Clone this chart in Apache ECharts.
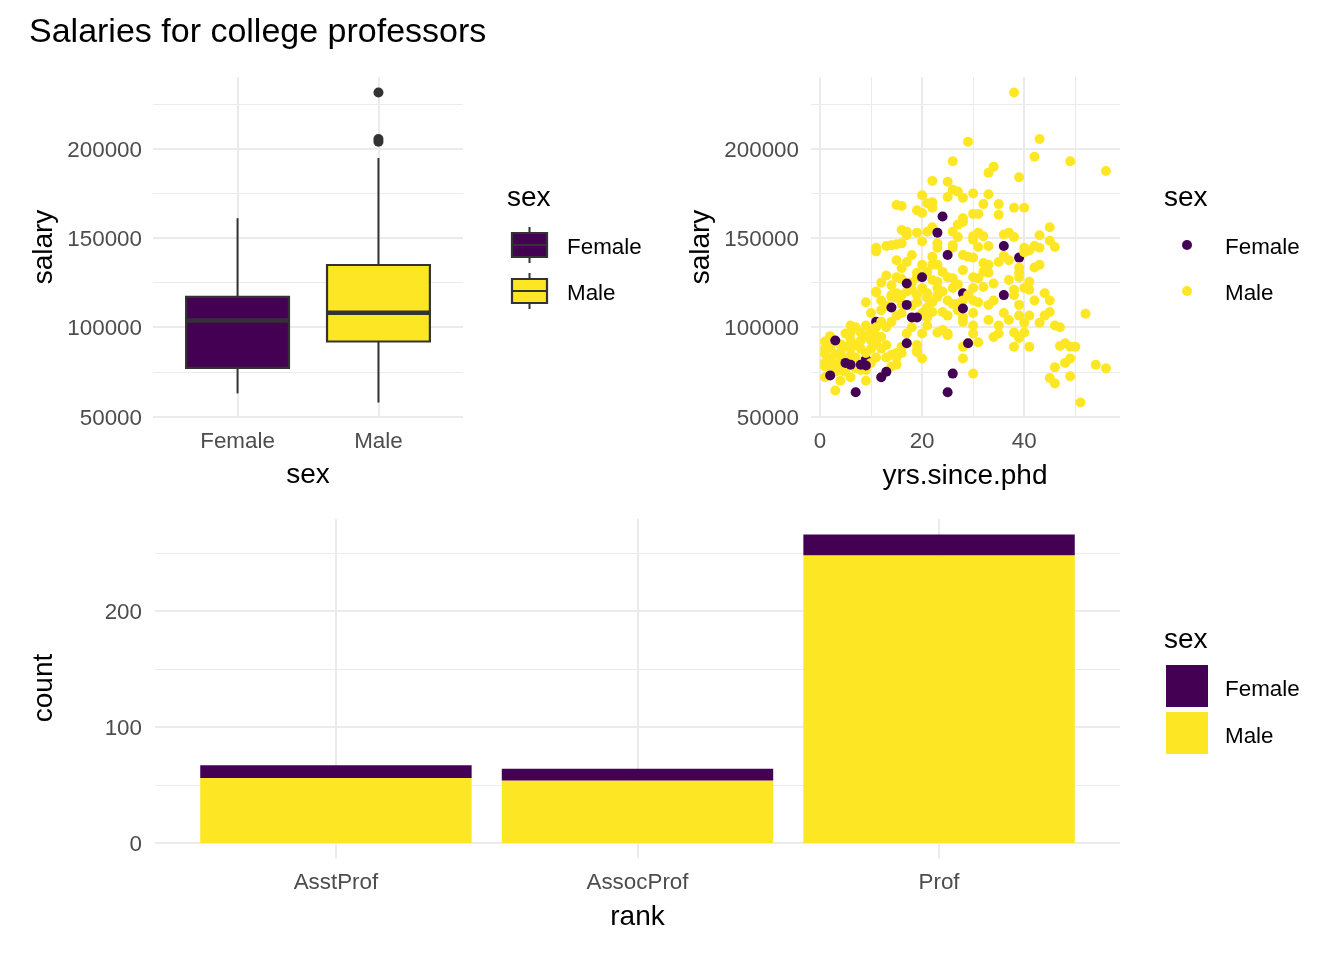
<!DOCTYPE html>
<html><head><meta charset="utf-8">
<script src="https://cdn.jsdelivr.net/npm/echarts@6/dist/echarts.min.js"></script>
<style>html,body{margin:0;padding:0;background:#fff}#c{width:1344px;height:960px}</style>
</head><body><div id="c"></div>
<script>
const FONT = '"Liberation Sans", Arial, Helvetica, sans-serif';
const sexLevels = ['Female', 'Male'];
const sexColors = ['#440154', '#FDE725'];

// box plot statistics [min, Q1, median, Q3, max]
const femaleBox = [62884, 77250, 103750, 117003, 161101];
const maleBox = [57800, 92000, 108043, 134864, 194800];
const maleOutliers = [231545, 205500, 204000];

const salaryTicks = [50000, 100000, 150000, 200000];
const salaryMinor = [75000, 125000, 175000, 225000];
const yrsTicks = [0, 20, 40];
const yrsMinor = [10, 30, 50];

const ranks = ['AsstProf', 'AssocProf', 'Prof'];
const rankFemale = [11, 10, 18];
const rankMale = [56, 54, 248];
const countTicks = [0, 100, 200];
const countMinor = [50, 150, 250];

// [yrs.since.phd, salary]
const femalePointsBehind = [[11,103000],[28,119000],[39,139000],[9,82000]];
const femalePoints = [[2,73000],[3,92500],[5,80000],[6,79000],[7,63500],[8,79000],[9,78500],[12,72000],[13,75000],[14,111000],[17,124500],[17,112500],[17,91000],[18,105500],[19,105500],[20,128000],[23,153000],[24,162000],[25,140500],[25,63500],[26,74000],[28,110500],[29,91000],[36,145500],[36,118000]];
const malePoints = [[38,231545],[29,204000],[43,205500],[42,195500],[49,193000],[56,187500],[39,184000],[33,186500],[34,190000],[26,193000],[22,182000],[25,181500],[26,177000],[20,174000],[22,170000],[25,173000],[28,172500],[30,175000],[33,174500],[27,176000],[16,168000],[15,168500],[19,165500],[20,164000],[21,169500],[22,167000],[32,169000],[35,169000],[38,167000],[40,167000],[28,161000],[27,157500],[30,163500],[31,163500],[35,163000],[28,159000],[22,156000],[45,156000],[17,153500],[17,151500],[19,153000],[21,153500],[26,153500],[27,150500],[30,151000],[31,153000],[32,151000],[36,152000],[37,153000],[38,150500],[43,151500],[16,154500],[45,148500],[46,145000],[30,149000],[20,148000],[14,146000],[11,144500],[13,145500],[15,146500],[16,147000],[23,147000],[26,146000],[23,144500],[26,144500],[33,145500],[40,144500],[42,145500],[31,145000],[43,144500],[41,143000],[40,142000],[11,142500],[18,140500],[22,139500],[28,140500],[29,139500],[36,140000],[30,139000],[15,137500],[17,136500],[20,135000],[22,135000],[23,135000],[32,136000],[35,136500],[37,137500],[33,135000],[43,135000],[16,133000],[28,132000],[39,133500],[42,133500],[24,131000],[32,131000],[19,130500],[33,130500],[39,130500],[13,129000],[15,128000],[19,128000],[30,128000],[39,128000],[26,127500],[22,126500],[37,126500],[23,125500],[31,127500],[41,125500],[12,125000],[27,124000],[14,123500],[34,124500],[23,122000],[30,122000],[32,122500],[40,122000],[26,122000],[18,121000],[38,121000],[41,121000],[11,120000],[11,119500],[15,119000],[19,118000],[21,119000],[23,118000],[14,118000],[29,118000],[38,118000],[9,114000],[14,117000],[15,116500],[21,116500],[23,117000],[25,115000],[28,115000],[30,115000],[31,114000],[34,115000],[42,115000],[45,115000],[44,119000],[33,112500],[39,112500],[27,113000],[18,112000],[21,111000],[12,109500],[27,109500],[10,108000],[16,108000],[22,108500],[24,108500],[30,108000],[36,108000],[45,108500],[15,106500],[25,106500],[39,106500],[41,106500],[44,106500],[52,107500],[21,105500],[28,105500],[33,104000],[37,104000],[14,103000],[28,103000],[40,102500],[43,102500],[9,101000],[21,101000],[30,101000],[35,101000],[46,101000],[11,100000],[13,100000],[7,100000],[47,100000],[24,98500],[5,96500],[6,97000],[17,96500],[20,96500],[23,97000],[25,96500],[30,96500],[35,96500],[38,97000],[40,97000],[25,95500],[2,95000],[12,94500],[34,94500],[39,94000],[6,93000],[8,92500],[10,92500],[1,92000],[31,91500],[29,91000],[48,91000],[4,90500],[19,90000],[47,89500],[16,89000],[28,89000],[38,89000],[41,89000],[49,89000],[50,89000],[2,88500],[1,88000],[6,88000],[8,88000],[10,88000],[12,88000],[19,87000],[16,85500],[9,85500],[15,85500],[19,86000],[1,85000],[3,85000],[14,84500],[5,82500],[7,83000],[11,83000],[13,83000],[15,83000],[20,82500],[28,82500],[49,82500],[4,81500],[48,80000],[15,79000],[54,79000],[2,78500],[14,78000],[1,78000],[56,77000],[46,77500],[8,76000],[9,76000],[3,75000],[5,75000],[30,74000],[1,72000],[6,72000],[49,72500],[45,71500],[4,70000],[9,70000],[46,68500],[3,64500],[51,57800],[1,80000],[2,82000],[3,79000],[4,86000],[5,89000],[6,84000],[7,90000],[8,97000],[9,95000],[10,98000],[11,95000],[12,103000],[13,112000],[4,76000],[7,77000],[10,80000],[11,91000],[12,115000],[13,90000],[6,101000],[16,118000],[17,120000],[18,125000],[16,127000],[20,122000],[19,114000],[21,131000],[16,113000],[18,100000],[20,108000],[22,114000],[24,120000],[25,128000],[26,113000]];

// ---- scale limits (ggplot-like 5% expansion / 0.6 discrete expansion) ----
const allPts = malePoints.concat(femalePoints, femalePointsBehind);
const salVals = allPts.map(p => p[1]).concat(femaleBox, maleBox, maleOutliers);
const salMin = Math.min(...salVals), salMax = Math.max(...salVals);
const salPad = (salMax - salMin) * 0.05;
const yrsVals = allPts.map(p => p[0]);
const yrsMin = Math.min(...yrsVals), yrsMax = Math.max(...yrsVals);
const yrsPad = (yrsMax - yrsMin) * 0.05;
const countMax = Math.max(...rankFemale.map((f, i) => f + rankMale[i]));
const countPad = countMax * 0.05;

// stacked bar segments [rank position, lower, upper] (Male at bottom, Female on top)
const maleSegments = rankMale.map((m, i) => [i + 1, 0, m]);
const femaleSegments = rankFemale.map((f, i) => [i + 1, rankMale[i], rankMale[i] + f]);

const GRID = '#EBEBEB';
const AXT = '#4D4D4D';
const BOX_HALF = 0.365;
const BAR_HALF = 0.45;

function majorAxis(extra) {
  return Object.assign({
    type: 'value', axisLine: {show: false},
    axisTick: {show: false},
    splitLine: {show: true, lineStyle: {color: GRID, width: 2}},
    axisLabel: {color: AXT, fontSize: 22.4, fontFamily: FONT}
  }, extra);
}
function minorAxis(extra, vals) {
  return Object.assign({
    type: 'value', axisLine: {show: false},
    axisTick: {show: false, customValues: vals},
    axisLabel: {show: false, customValues: vals},
    splitLine: {show: true, lineStyle: {color: GRID, width: 1}}
  }, extra);
}
const plain = v => String(v);
const yLabel = (margin, vals) => ({
  color: AXT, fontSize: 22.4, fontFamily: FONT, margin, customValues: vals,
  formatter: v => '{t|' + v + '}',
  rich: {t: {color: AXT, fontSize: 22.4, fontFamily: FONT, padding: [4, 0, 0, 0]}}
});

function renderBox(params, api) {
  const x = api.value(0);
  const c = i => api.coord([x, api.value(i)]);
  const pMin = c(1), pQ1 = c(2), pMed = c(3), pQ3 = c(4), pMax = c(5);
  const hw = api.size([BOX_HALF, 0])[0];
  const cx = pMed[0];
  const stroke = '#333333';
  return {type: 'group', children: [
    {type: 'line', shape: {x1: cx, y1: pMax[1], x2: cx, y2: pQ3[1]}, style: {stroke, lineWidth: 2}},
    {type: 'line', shape: {x1: cx, y1: pQ1[1], x2: cx, y2: pMin[1]}, style: {stroke, lineWidth: 2}},
    {type: 'rect', shape: {x: cx - hw, y: pQ3[1], width: 2 * hw, height: pQ1[1] - pQ3[1]}, style: {fill: api.visual('color'), stroke, lineWidth: 2.2}},
    {type: 'line', shape: {x1: cx - hw, y1: pMed[1], x2: cx + hw, y2: pMed[1]}, style: {stroke, lineWidth: 4.5}}
  ]};
}
function renderBar(params, api) {
  const x = api.value(0), lo = api.value(1), hi = api.value(2);
  const p0 = api.coord([x - BAR_HALF, hi]), p1 = api.coord([x + BAR_HALF, lo]);
  return {type: 'rect', shape: {x: p0[0], y: p0[1], width: p1[0] - p0[0], height: p1[1] - p0[1]},
    style: {fill: api.visual('color')}};
}

function txt(text, x, y, size) {
  return {
    type: 'text', x, y,
    style: {text, fontSize: size, fontFamily: FONT, fill: '#000', textAlign: 'left', textVerticalAlign: 'middle', align: 'left', verticalAlign: 'middle'}
  };
}
function ctxt(text, x, y, size, rot) {
  return {
    type: 'text', x, y, rotation: rot || 0,
    style: {text, fontSize: size, fontFamily: FONT, fill: '#000', textAlign: 'center', textVerticalAlign: 'middle', align: 'center', verticalAlign: 'middle'}
  };
}
function boxKey(x, y, color) {
  const cx = x + 17.5;
  return [
    {type: 'line', shape: {x1: cx, y1: y - 6, x2: cx, y2: y + 30}, style: {stroke: '#333', lineWidth: 2}},
    {type: 'rect', shape: {x, y, width: 35, height: 24}, style: {fill: color, stroke: '#333', lineWidth: 2.2}},
    {type: 'line', shape: {x1: x, y1: y + 12, x2: x + 35, y2: y + 12}, style: {stroke: '#333', lineWidth: 2.2}}
  ];
}

const chart = echarts.init(document.getElementById('c'), null, {renderer: 'canvas'});
const option = {
  animation: false,
  backgroundColor: '#ffffff',
  title: {text: 'Salaries for college professors', left: 29, top: 16, padding: 0,
    textStyle: {fontSize: 34, fontWeight: 'normal', color: '#000', fontFamily: FONT}},
  grid: [
    {left: 153, top: 77, width: 310, height: 341},
    {left: 811, top: 77, width: 309, height: 341},
    {left: 155, top: 519, width: 965, height: 339.5}
  ],
  xAxis: [
    majorAxis({gridIndex: 0, min: 0.4, max: sexLevels.length + 0.6,
      axisTick: {show: false, customValues: [1, 2]},
      axisLabel: {color: AXT, fontSize: 22.4, fontFamily: FONT, margin: 13, customValues: [1, 2], formatter: v => sexLevels[Math.round(v) - 1]}}),
    majorAxis({gridIndex: 1, min: yrsMin - yrsPad, max: yrsMax + yrsPad,
      axisTick: {show: false, customValues: yrsTicks},
      axisLabel: {color: AXT, fontSize: 22.4, fontFamily: FONT, margin: 13, customValues: yrsTicks, formatter: plain}}),
    minorAxis({gridIndex: 1, position: 'top', min: yrsMin - yrsPad, max: yrsMax + yrsPad}, yrsMinor),
    majorAxis({gridIndex: 2, min: 0.4, max: ranks.length + 0.6,
      axisTick: {show: false, customValues: [1, 2, 3]},
      axisLabel: {color: AXT, fontSize: 22.4, fontFamily: FONT, margin: 13, customValues: [1, 2, 3], formatter: v => ranks[Math.round(v) - 1]}})
  ],
  yAxis: [
    majorAxis({gridIndex: 0, min: salMin - salPad, max: salMax + salPad,
      axisTick: {show: false, customValues: salaryTicks}, axisLabel: yLabel(11, salaryTicks)}),
    minorAxis({gridIndex: 0, position: 'right', min: salMin - salPad, max: salMax + salPad}, salaryMinor),
    majorAxis({gridIndex: 1, min: salMin - salPad, max: salMax + salPad,
      axisTick: {show: false, customValues: salaryTicks}, axisLabel: yLabel(12, salaryTicks)}),
    minorAxis({gridIndex: 1, position: 'right', min: salMin - salPad, max: salMax + salPad}, salaryMinor),
    majorAxis({gridIndex: 2, min: -countPad, max: countMax + countPad,
      axisTick: {show: false, customValues: countTicks}, axisLabel: yLabel(13, countTicks)}),
    minorAxis({gridIndex: 2, position: 'right', min: -countPad, max: countMax + countPad}, countMinor)
  ],
  series: [
    {type: 'custom', name: 'box', xAxisIndex: 0, yAxisIndex: 0, renderItem: renderBox,
      encode: {x: 0, y: [1, 2, 3, 4, 5]},
      data: [
        {value: [1].concat(femaleBox), itemStyle: {color: sexColors[0]}},
        {value: [2].concat(maleBox), itemStyle: {color: sexColors[1]}}
      ]},
    {type: 'scatter', name: 'outliers', xAxisIndex: 0, yAxisIndex: 0, symbolSize: 10,
      itemStyle: {color: '#333333', opacity: 1}, data: maleOutliers.map(v => [2, v])},
    {type: 'scatter', name: 'FemaleBehind', xAxisIndex: 1, yAxisIndex: 2, symbolSize: 10,
      itemStyle: {color: sexColors[0], opacity: 1}, data: femalePointsBehind},
    {type: 'scatter', name: 'Male', xAxisIndex: 1, yAxisIndex: 2, symbolSize: 10,
      itemStyle: {color: sexColors[1], opacity: 1}, data: malePoints},
    {type: 'scatter', name: 'Female', xAxisIndex: 1, yAxisIndex: 2, symbolSize: 10,
      itemStyle: {color: sexColors[0], opacity: 1}, data: femalePoints},
    {type: 'custom', name: 'Male count', xAxisIndex: 3, yAxisIndex: 4, renderItem: renderBar,
      encode: {x: 0, y: [1, 2]}, itemStyle: {color: sexColors[1]}, data: maleSegments},
    {type: 'custom', name: 'Female count', xAxisIndex: 3, yAxisIndex: 4, renderItem: renderBar,
      encode: {x: 0, y: [1, 2]}, itemStyle: {color: sexColors[0]}, data: femaleSegments}
  ],
  graphic: [
    // axis titles
    ctxt('sex', 308, 475, 28),
    ctxt('yrs.since.phd', 965, 476, 28),
    ctxt('rank', 637.5, 917, 28),
    ctxt('salary', 44, 247, 28, Math.PI / 2),
    ctxt('salary', 701, 247, 28, Math.PI / 2),
    ctxt('count', 44, 688, 28, Math.PI / 2),
    // box legend
    txt('sex', 507, 198, 28),
    ...boxKey(512, 233, sexColors[0]),
    ...boxKey(512, 279, sexColors[1]),
    txt(sexLevels[0], 567, 248, 22.4),
    txt(sexLevels[1], 567, 294, 22.4),
    // scatter legend
    txt('sex', 1164, 198, 28),
    {type: 'circle', shape: {cx: 1187, cy: 245, r: 5}, style: {fill: sexColors[0]}},
    {type: 'circle', shape: {cx: 1187, cy: 291, r: 5}, style: {fill: sexColors[1]}},
    txt(sexLevels[0], 1225, 248, 22.4),
    txt(sexLevels[1], 1225, 294, 22.4),
    // bar legend
    txt('sex', 1164, 640, 28),
    {type: 'rect', shape: {x: 1166, y: 665, width: 42, height: 42}, style: {fill: sexColors[0]}},
    {type: 'rect', shape: {x: 1166, y: 712, width: 42, height: 42}, style: {fill: sexColors[1]}},
    txt(sexLevels[0], 1225, 690, 22.4),
    txt(sexLevels[1], 1225, 737, 22.4)
  ]
};
chart.setOption(option);
</script>
</body></html>
